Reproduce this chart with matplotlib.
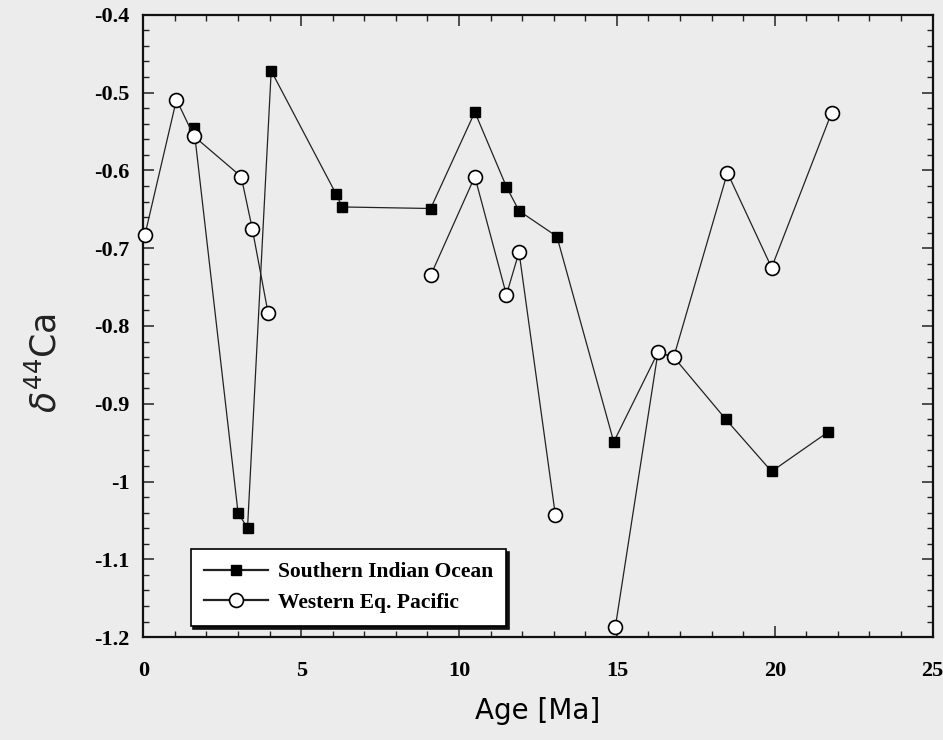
import numpy as np
import matplotlib
matplotlib.use("Agg")
import matplotlib.pyplot as plt
from matplotlib.ticker import MultipleLocator, FixedLocator, FixedFormatter

nan = np.nan

# Southern Indian Ocean (filled squares)
sio_age = [1.6, 3.0, 3.3, 4.05, 6.1, 6.3, 9.1, 10.5, 11.5, 11.9, 13.1, 14.9, 16.3, 16.8, 18.45, 19.9, 21.7]
sio_d44 = [-0.545, -1.04, -1.06, -0.472, -0.63, -0.647, -0.649, -0.525, -0.621, -0.652, -0.685, -0.949,
           -0.834, -0.84, -0.92, -0.987, -0.936]

# Western Eq. Pacific (open circles); NaN marks gaps in the line
wep_age = [0.05, 1.05, 1.6, 3.1, 3.45, 3.95, nan, 9.1, 10.5, 11.5, 11.9, 13.05, nan,
           14.95, 16.3, 16.8, 18.5, 19.9, 21.8]
wep_d44 = [-0.683, -0.509, -0.556, -0.608, -0.675, -0.783, nan, -0.735, -0.608, -0.76, -0.705, -1.043, nan,
           -1.187, -0.834, -0.84, -0.603, -0.725, -0.526]

x_ticks = [0, 5, 10, 15, 20, 25]
x_labels = ["0", "5", "10", "15", "20", "25"]
y_ticks = [-0.4, -0.5, -0.6, -0.7, -0.8, -0.9, -1.0, -1.1, -1.2]
y_labels = ["-0.4", "-0.5", "-0.6", "-0.7", "-0.8", "-0.9", "-1", "-1.1", "-1.2"]

bg = "#ececec"
fig = plt.figure(figsize=(9.43, 7.40), dpi=100, facecolor=bg)
ax = fig.add_axes([0.152, 0.139, 0.837, 0.841])
ax.set_facecolor(bg)

ax.plot(sio_age, sio_d44, color="#222222", lw=0.9, marker="s", ms=7.5,
        mfc="black", mec="black", label="Southern Indian Ocean", zorder=3, clip_on=False)
ax.plot(wep_age, wep_d44, color="#222222", lw=0.9, marker="o", ms=10,
        mfc="white", mec="black", mew=1.2, label="Western Eq. Pacific", zorder=4, clip_on=False)

ax.set_xlim(0, 25)
ax.set_ylim(-1.2, -0.4)
ax.xaxis.set_major_locator(FixedLocator(x_ticks))
ax.xaxis.set_major_formatter(FixedFormatter(x_labels))
ax.yaxis.set_major_locator(FixedLocator(y_ticks))
ax.yaxis.set_major_formatter(FixedFormatter(y_labels))
ax.xaxis.set_minor_locator(MultipleLocator(1))
ax.yaxis.set_minor_locator(MultipleLocator(0.02))

for s in ax.spines.values():
    s.set_linewidth(1.6)
    s.set_color("#111111")

ax.tick_params(which="both", direction="in", top=True, right=True, color="#222222")
ax.tick_params(which="major", length=8, width=1.1)
ax.tick_params(which="minor", length=4.5, width=1.0)
ax.tick_params(axis="x", which="major", pad=17)
ax.tick_params(axis="y", which="major", pad=10)
for lab in ax.get_xticklabels() + ax.get_yticklabels():
    lab.set_fontfamily("Liberation Serif")
    lab.set_fontweight("bold")
    lab.set_fontsize(16)

ax.set_xlabel("Age [Ma]", fontsize=20, fontfamily="DejaVu Sans", labelpad=12)
fig.text(0.048, 0.51, r"$\delta^{44}$Ca", rotation=90, fontsize=25, ha="center", va="center",
         fontfamily="DejaVu Sans", color="#222222")

leg = ax.legend(loc="lower left", bbox_to_anchor=(0.06, 0.018), borderaxespad=0,
                prop={"family": "Liberation Serif", "weight": "bold", "size": 15.5},
                handlelength=3.0, handletextpad=0.45, fancybox=False, framealpha=1,
                edgecolor="black", facecolor="white",
                shadow={"color": "#111111", "alpha": 1}, borderpad=0.6, labelspacing=0.5)
leg.get_frame().set_linewidth(1.2)
for h in leg.get_lines():
    h.set_linewidth(1.6)

fig.savefig("out.png", dpi=100, facecolor=bg)
